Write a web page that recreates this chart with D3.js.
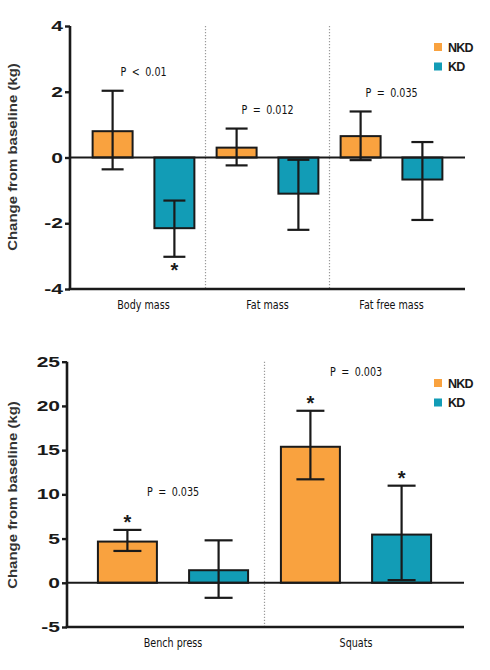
<!DOCTYPE html>
<html>
<head>
<meta charset="utf-8">
<script src="https://cdn.jsdelivr.net/npm/d3@7"></script>
<style>
  html, body { margin: 0; padding: 0; background: #fff; }
  svg { display: block; }
</style>
</head>
<body>
<svg id="chart" width="490" height="670"></svg>
<script>
// ---------- DATA ----------
const series = ["NKD", "KD"];

const topCategories = ["Body mass", "Fat mass", "Fat free mass"];
const topNKD = [0.8, 0.3, 0.65];
const topNKDLow = [-0.36, -0.24, -0.08];
const topNKDHigh = [2.03, 0.88, 1.4];
const topKD = [-2.15, -1.1, -0.67];
const topKDLow = [-3.02, -2.2, -1.9];
const topKDHigh = [-1.31, -0.07, 0.47];
const topNKDStar = [false, false, false];
const topKDStar = [true, false, false];
const topPLabels = ["P < 0.01", "P = 0.012", "P = 0.035"];
const topTicks = [-4, -2, 0, 2, 4];

const botCategories = ["Bench press", "Squats"];
const botNKD = [4.66, 15.38];
const botNKDLow = [3.6, 11.7];
const botNKDHigh = [5.98, 19.45];
const botKD = [1.42, 5.45];
const botKDLow = [-1.7, 0.3];
const botKDHigh = [4.8, 10.98];
const botNKDStar = [true, true];
const botKDStar = [false, true];
const botPLabels = ["P = 0.035", "P = 0.003"];
const botTicks = [-5, 0, 5, 10, 15, 20, 25];

// ---------- STYLE ----------
const colors = { NKD: "#F9A23F", KD: "#129CB6" };
const narrow = "'Liberation Sans Narrow', 'DejaVu Sans Condensed', 'Arial Narrow', sans-serif";
const bold = "'Liberation Sans', Arial, Helvetica, sans-serif";
const narrowScale = 0.82;

const svg = d3.select("#chart");

function panel(cfg) {
  const g = svg.append("g");
  const y = d3.scaleLinear().domain(cfg.domain).range([cfg.yBottom, cfg.yTop]);
  const x = d3.scaleBand().domain(cfg.categories).range(cfg.bandRange).paddingInner(0).paddingOuter(0);
  const xs = d3.scaleBand().domain(series).range([0, x.bandwidth()]).paddingInner(0.353).paddingOuter(0.18);

  const rows = [];
  cfg.categories.forEach((c, i) => {
    rows.push({ c, s: "NKD", v: cfg.nkd[i], lo: cfg.nkdLow[i], hi: cfg.nkdHigh[i], star: cfg.nkdStar[i] });
    rows.push({ c, s: "KD", v: cfg.kd[i], lo: cfg.kdLow[i], hi: cfg.kdHigh[i], star: cfg.kdStar[i] });
  });

  // separators
  cfg.categories.slice(1).forEach(c => {
    g.append("line")
      .attr("x1", x(c)).attr("x2", x(c))
      .attr("y1", cfg.yTop).attr("y2", cfg.yBottom)
      .attr("stroke", "#9a9a9a").attr("stroke-width", 1.2)
      .attr("stroke-dasharray", "1.2,1.8");
  });

  // bars
  g.selectAll("rect.bar").data(rows).join("rect")
    .attr("class", "bar")
    .attr("x", d => x(d.c) + xs(d.s))
    .attr("width", xs.bandwidth())
    .attr("y", d => Math.min(y(d.v), y(0)))
    .attr("height", d => Math.abs(y(d.v) - y(0)))
    .attr("fill", d => colors[d.s])
    .attr("stroke", "#1a1a1a").attr("stroke-width", 2);

  // zero line
  g.append("line")
    .attr("x1", cfg.axisX).attr("x2", cfg.axisRight)
    .attr("y1", y(0)).attr("y2", y(0))
    .attr("stroke", "#1a1a1a").attr("stroke-width", 2);

  // error bars
  const cx = d => x(d.c) + xs(d.s) + xs.bandwidth() / 2;
  const eb = g.selectAll("g.err").data(rows).join("g").attr("class", "err")
    .attr("stroke", "#1a1a1a").attr("stroke-width", 2.2);
  eb.append("line").attr("x1", cx).attr("x2", cx).attr("y1", d => y(d.lo)).attr("y2", d => y(d.hi));
  eb.append("line").attr("x1", d => cx(d) - cfg.cap / 2).attr("x2", d => cx(d) + cfg.cap / 2)
    .attr("y1", d => y(d.hi)).attr("y2", d => y(d.hi));
  eb.append("line").attr("x1", d => cx(d) - cfg.cap / 2).attr("x2", d => cx(d) + cfg.cap / 2)
    .attr("y1", d => y(d.lo)).attr("y2", d => y(d.lo));

  // stars
  g.selectAll("text.star").data(rows.filter(d => d.star)).join("text")
    .attr("class", "star")
    .attr("x", cx)
    .attr("y", d => d.v < 0 ? y(d.lo) + 20 : y(d.hi) - 1)
    .attr("text-anchor", "middle")
    .attr("font-family", bold).attr("font-weight", "bold").attr("font-size", 20)
    .attr("fill", "#1a1a1a")
    .text("*");

  // P labels
  cfg.categories.forEach((c, i) => {
    const top = Math.max(cfg.nkdHigh[i], cfg.kdHigh[i]);
    g.append("text")
      .attr("transform", `translate(${x(c) + x.bandwidth() / 2},${y(top) - cfg.pOffset}) scale(${narrowScale},1)`)
      .attr("dy", "0.36em")
      .attr("text-anchor", "middle")
      .attr("font-family", narrow).attr("font-size", 13)
      .attr("word-spacing", 3)
      .attr("fill", "#111")
      .text(cfg.pLabels[i]);
  });

  // y axis
  const ax = g.append("g").attr("transform", `translate(${cfg.axisX},0)`)
    .call(d3.axisLeft(y).tickValues(cfg.ticks).tickSize(5).tickPadding(7).tickFormat(d => String(d)));
  ax.select(".domain").attr("stroke", "#1a1a1a").attr("stroke-width", 2.6)
    .attr("d", `M0,${cfg.yTop}V${cfg.yBottom}`);
  ax.selectAll(".tick line").attr("stroke", "#1a1a1a").attr("stroke-width", 2.4);
  ax.selectAll(".tick text")
    .attr("font-family", bold).attr("font-weight", "bold").attr("font-size", 14.5)
    .attr("fill", "#1a1a1a")
    .attr("x", -7 / 1.45)
    .attr("transform", "scale(1.45,1)");

  // bottom axis line
  g.append("line")
    .attr("x1", cfg.axisX - 1.3).attr("x2", cfg.axisRight)
    .attr("y1", cfg.yBottom).attr("y2", cfg.yBottom)
    .attr("stroke", "#1a1a1a").attr("stroke-width", 2.6);

  // category labels
  g.selectAll("text.cat").data(cfg.categories).join("text")
    .attr("class", "cat")
    .attr("transform", c => `translate(${x(c) + x.bandwidth() / 2},${cfg.yBottom + 20}) scale(${narrowScale},1)`)
    .attr("text-anchor", "middle")
    .attr("font-family", narrow).attr("font-size", 13)
    .attr("fill", "#111")
    .text(c => c);

  // y title
  g.append("text")
    .attr("transform", `translate(17,${cfg.titleY}) rotate(-90) scale(1.15,1)`)
    .attr("text-anchor", "middle")
    .attr("font-family", bold).attr("font-weight", "bold").attr("font-size", 13)
    .attr("fill", "#333")
    .text("Change from baseline (kg)");

  // legend
  series.forEach((s, i) => {
    const ly = cfg.legendY + i * cfg.legendGap;
    g.append("rect").attr("x", 434).attr("y", ly - 4).attr("width", 8).attr("height", 8)
      .attr("fill", colors[s]);
    g.append("text").attr("x", 448).attr("y", ly).attr("dy", "0.36em")
      .attr("font-family", bold).attr("font-weight", "bold").attr("font-size", 12.5)
      .attr("letter-spacing", -0.8)
      .attr("fill", "#1a1a1a")
      .text(s);
  });
}

panel({
  categories: topCategories, nkd: topNKD, nkdLow: topNKDLow, nkdHigh: topNKDHigh,
  kd: topKD, kdLow: topKDLow, kdHigh: topKDHigh, nkdStar: topNKDStar, kdStar: topKDStar,
  pLabels: topPLabels, ticks: topTicks,
  domain: [-4, 4], yTop: 26, yBottom: 289, axisX: 70, axisRight: 465,
  bandRange: [81.5, 453.5], cap: 22, pOffset: 19, titleY: 157,
  legendY: 47, legendGap: 19.5
});

panel({
  categories: botCategories, nkd: botNKD, nkdLow: botNKDLow, nkdHigh: botNKDHigh,
  kd: botKD, kdLow: botKDLow, kdHigh: botKDHigh, nkdStar: botNKDStar, kdStar: botKDStar,
  pLabels: botPLabels, ticks: botTicks,
  domain: [-5, 25], yTop: 361.7, yBottom: 627, axisX: 67, axisRight: 464,
  bandRange: [81.5, 447.5], cap: 28, pOffset: 39, titleY: 495,
  legendY: 383, legendGap: 19.5
});
</script>
</body>
</html>
